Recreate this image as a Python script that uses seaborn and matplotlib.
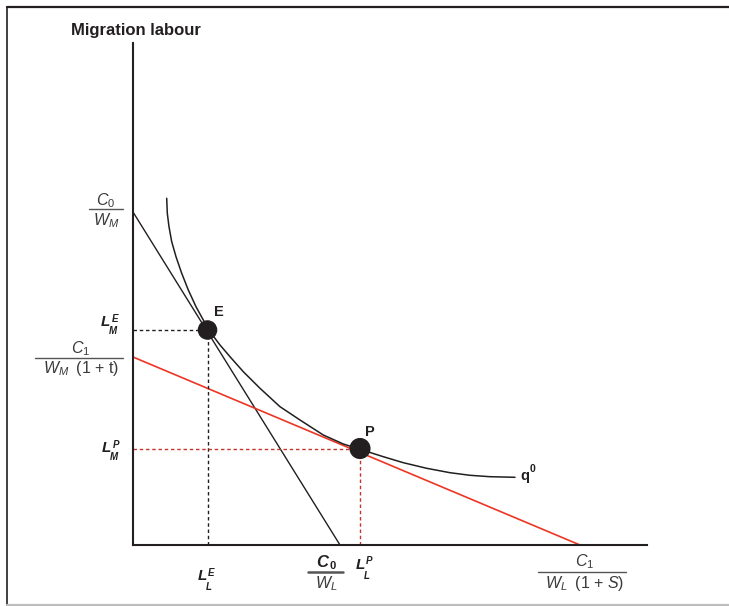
import matplotlib
matplotlib.use("Agg")
import matplotlib.pyplot as plt
from matplotlib.lines import Line2D
import seaborn as sns

# values (axis units: origin at axes corner)
black_budget_x = [0.0, 2.07]
black_budget_y = [3.33, 0.0]
red_budget_x = [0.0, 4.47]
red_budget_y = [1.88, 0.0]
isoquant_x = [0.337, 0.343, 0.36, 0.387, 0.43, 0.487, 0.553, 0.63, 0.703,
              0.77, 0.87, 0.97, 1.103, 1.27, 1.47, 1.67, 1.903, 2.103,
              2.293, 2.503, 2.703, 2.937, 3.17, 3.37, 3.57, 3.82]
isoquant_y = [3.467, 3.317, 3.183, 3.033, 2.883, 2.717, 2.55, 2.383, 2.25,
              2.133, 2.0, 1.883, 1.733, 1.567, 1.383, 1.25, 1.1, 1.01,
              0.95, 0.883, 0.823, 0.767, 0.723, 0.697, 0.683, 0.677]
point_names = ["E", "P"]
point_x = [0.745, 2.27]
point_y = [2.15, 0.965]
x_max, y_max = 5.14, 5.02

sns.set_style("white")
plt.rcParams["font.family"] = ["Liberation Sans", "DejaVu Sans"]
plt.rcParams["mathtext.fontset"] = "custom"
plt.rcParams["mathtext.rm"] = "Liberation Sans"
plt.rcParams["mathtext.it"] = "Liberation Sans:italic"
plt.rcParams["mathtext.bf"] = "Liberation Sans:bold"

W, H = 729, 606
ink = "#231f20"
txt = "#3a3a3a"
red = "#ee3524"
red_dash = "#c4362c"

fig = plt.figure(figsize=(W / 100, H / 100), dpi=100)
ax = fig.add_axes([133 / W, 61 / H, 514 / W, 502 / H])


def fp(px, py):
    return px / W, 1 - py / H


# budget lines and isoquant
sns.lineplot(x=black_budget_x, y=black_budget_y, ax=ax, color=ink, lw=1.0)
sns.lineplot(x=red_budget_x, y=red_budget_y, ax=ax, color=red, lw=1.2)
sns.lineplot(x=isoquant_x, y=isoquant_y, ax=ax, color=ink, lw=1.1,
             sort=False, estimator=None, solid_joinstyle="round")

# dotted guides to the axes
ex, px_ = point_x
ey, py_ = point_y
ax.plot([0, ex], [ey, ey], color=ink, lw=1.0, ls=(0, (2.5, 2)))
ax.plot([ex, ex], [0, ey], color=ink, lw=1.0, ls=(0, (2.5, 2)))
ax.plot([0, px_], [py_, py_], color=red_dash, lw=1.0, ls=(0, (2.5, 2)))
ax.plot([px_, px_], [0, py_], color=red_dash, lw=1.0, ls=(0, (2.5, 2)))

sns.scatterplot(x=point_x, y=point_y, ax=ax, color=ink,
                size=[1, 2], sizes=(170, 200), legend=False, zorder=5,
                edgecolor=ink)

ax.set_xlim(0, x_max)
ax.set_ylim(0, y_max)
ax.set_xticks([])
ax.set_yticks([])
for side in ["top", "right"]:
    ax.spines[side].set_visible(False)
for side in ["left", "bottom"]:
    ax.spines[side].set_color(ink)
    ax.spines[side].set_linewidth(1.5)

# point labels
fig.text(*fp(219, 316.5), "E", fontsize=10.5, weight="bold", color=ink,
         ha="center", va="baseline")
fig.text(*fp(370, 436.5), "P", fontsize=10.5, weight="bold", color=ink,
         ha="center", va="baseline")
fig.text(*fp(520, 480), "q", fontsize=10.5, weight="bold", color=ink,
         ha="left", va="baseline")
fig.text(*fp(529.5, 472), "0", fontsize=7.5, weight="bold", color=ink,
         ha="left", va="baseline")

fig.text(*fp(136, 35), "Migration labour", fontsize=12, weight="bold",
         color=ink, ha="center", va="baseline")


def l_label(x, y, sup, sub, sup_dx, sub_dx, sub_dy):
    kw = dict(color=ink, weight="bold", style="italic", va="baseline",
              ha="left")
    fig.text(*fp(x, y), "L", fontsize=11, **kw)
    fig.text(*fp(x + sup_dx, y - 4.5), sup, fontsize=7, **kw)
    fig.text(*fp(x + sub_dx, y + sub_dy), sub, fontsize=7, **kw)


l_label(101, 326, "E", "M", 11, 7.5, 7.5)
l_label(102, 452, "P", "M", 11, 7.5, 7.5)
l_label(198, 580, "E", "L", 10, 8, 10)
l_label(356, 569, "P", "L", 10, 8, 10)


def frac(cx, top_y, bar_y, bot_y, x0, x1, num, den, bar_w=1.0,
         num_kw=None):
    kw = dict(fontsize=11.5, color=txt, ha="center", va="baseline")
    if num_kw is None:
        fig.text(*fp(cx, top_y), num, **kw)
    else:
        num_kw()
    fig.text(*fp(cx, bot_y), den, **kw)
    fig.add_artist(Line2D([x0 / W, x1 / W], [1 - bar_y / H, 1 - bar_y / H],
                          color="#555555", lw=bar_w))


frac(106, 205, 209, 225, 89, 123, r"$C_0$", r"$W_M$")
frac(81, 353, 357.5, 373, 35, 123, r"$C_1$", "$W_M$\u2002(1 + t)")
frac(585, 566, 572, 588, 538, 626, r"$C_1$", "$W_L$\u2002(1 + $S$)")


def bold_c0():
    kw = dict(color=ink, weight="bold", va="baseline", ha="left")
    fig.text(*fp(316.5, 567), "C", fontsize=12, style="italic", **kw)
    fig.text(*fp(329, 569), "0", fontsize=8, **kw)


frac(326, 567, 571.5, 588, 308, 343, "", r"$W_L$", bar_w=1.8,
     num_kw=bold_c0)

# outer frame
fig.add_artist(Line2D([7 / W, 1], [1 - 7 / H, 1 - 7 / H], color=ink, lw=1.6))
fig.add_artist(Line2D([7 / W, 7 / W], [1 - 7 / H, 1 / H], color=ink, lw=1.2))
fig.add_artist(Line2D([7 / W, 1], [1.2 / H, 1.2 / H], color="#bdbdbd",
                      lw=1.6))

fig.savefig("out.png", dpi=100)
